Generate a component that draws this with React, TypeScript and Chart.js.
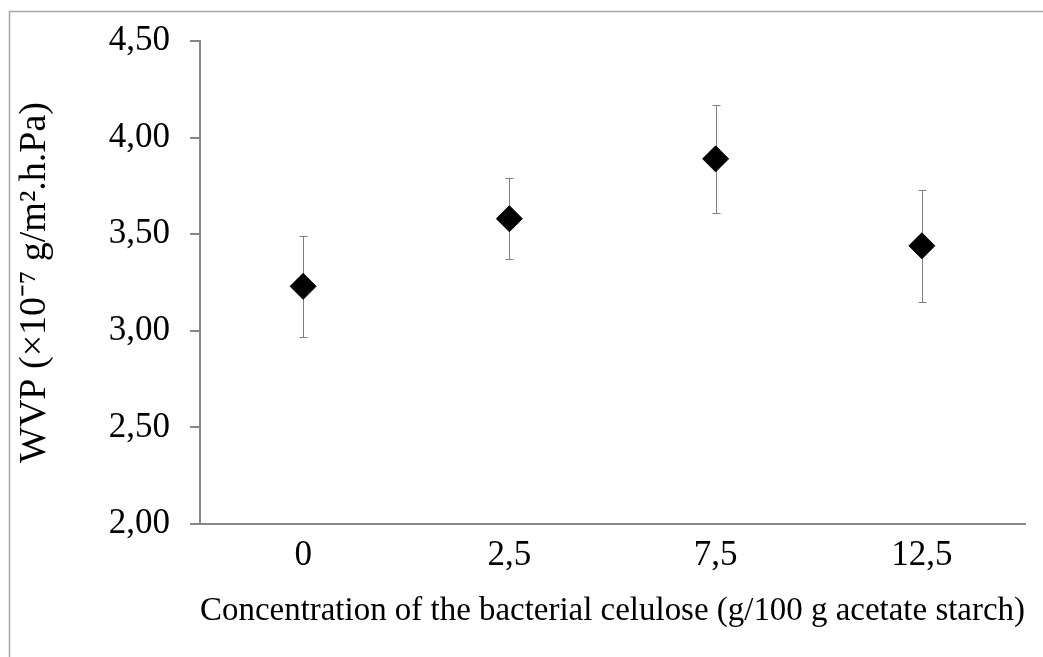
import React, { useEffect, useRef } from "react";
import { Chart, registerables } from "chart.js";

Chart.register(...registerables);

const categories: string[] = ["0", "2,5", "7,5", "12,5"];
const wvp: number[] = [3.23, 3.58, 3.89, 3.44];
const wvpError: number[] = [0.26, 0.21, 0.28, 0.29];
const yTicks: number[] = [2.0, 2.5, 3.0, 3.5, 4.0, 4.5];

const xTitle = "Concentration of the bacterial celulose (g/100 g acetate starch)";
const yTitle = "WVP (×10⁻⁷ g/m².h.Pa)";

const SERIF = "'Liberation Serif', 'Times New Roman', serif";
const AXIS_GRAY = "#878787";

const framePlugin = {
  id: "frame",
  beforeDraw(chart: any) {
    const { ctx, width, height } = chart;
    ctx.save();
    ctx.strokeStyle = "#a6a6a6";
    ctx.lineWidth = 1.5;
    ctx.beginPath();
    ctx.moveTo(9.5, height);
    ctx.lineTo(9.5, 11.5);
    ctx.lineTo(width, 11.5);
    ctx.stroke();
    ctx.restore();
  },
};

const errorBarPlugin = {
  id: "errorBars",
  beforeDatasetsDraw(chart: any) {
    const { ctx } = chart;
    const y = chart.scales.y;
    const meta = chart.getDatasetMeta(0);
    ctx.save();
    ctx.strokeStyle = "#7f7f7f";
    ctx.lineWidth = 1;
    meta.data.forEach((pt: any, i: number) => {
      const px = Math.round(pt.x) + 0.5;
      const yTop = Math.round(y.getPixelForValue(wvp[i] + wvpError[i])) + 0.5;
      const yBot = Math.round(y.getPixelForValue(wvp[i] - wvpError[i])) + 0.5;
      ctx.beginPath();
      ctx.moveTo(px, yTop);
      ctx.lineTo(px, yBot);
      ctx.moveTo(px - 4, yTop);
      ctx.lineTo(px + 4, yTop);
      ctx.moveTo(px - 4, yBot);
      ctx.lineTo(px + 4, yBot);
      ctx.stroke();
    });
    ctx.restore();
  },
};

export default function App() {
  const canvasRef = useRef<HTMLCanvasElement | null>(null);

  useEffect(() => {
    document.body.style.margin = "0";
    document.body.style.overflow = "hidden";
    const canvas = canvasRef.current;
    if (!canvas) return;
    const chart = new Chart(canvas, {
      type: "line",
      data: {
        labels: categories,
        datasets: [
          {
            label: "WVP",
            data: wvp,
            showLine: false,
            pointStyle: "rectRot",
            pointRadius: 13,
            pointHoverRadius: 13,
            pointBackgroundColor: "#000000",
            pointBorderColor: "#000000",
            pointBorderWidth: 1,
          },
        ],
      },
      options: {
        animation: false,
        responsive: true,
        maintainAspectRatio: false,
        events: [],
        layout: { padding: { top: 41, right: 18, left: 0, bottom: 0 } },
        plugins: {
          legend: { display: false },
          tooltip: { enabled: false },
        },
        scales: {
          x: {
            type: "category",
            offset: true,
            grid: { display: false, drawTicks: false, tickLength: 0 },
            border: { display: true, color: AXIS_GRAY, width: 2 },
            ticks: {
              color: "#000000",
              font: { family: SERIF, size: 35 },
              padding: 11,
              maxRotation: 0,
            },
            title: {
              display: true,
              text: xTitle,
              color: "#000000",
              font: { family: SERIF, size: 33 },
              padding: { top: 0, bottom: 26 },
            },
            afterFit(scale: any) {
              scale.height = 133;
            },
          },
          y: {
            type: "linear",
            min: 2,
            max: 4.5,
            grid: {
              display: true,
              drawOnChartArea: false,
              drawTicks: true,
              tickLength: 10,
              color: AXIS_GRAY,
              lineWidth: 2,
            },
            border: { display: true, color: AXIS_GRAY, width: 2 },
            afterBuildTicks(scale: any) {
              scale.ticks = yTicks.map((v) => ({ value: v }));
            },
            ticks: {
              color: "#000000",
              font: { family: SERIF, size: 35 },
              padding: 20,
              callback: (v: any) => Number(v).toFixed(2).replace(".", ","),
            },
            title: {
              display: true,
              text: yTitle,
              color: "#000000",
              font: { family: SERIF, size: 38 },
              padding: { top: 12, bottom: 0 },
            },
            afterFit(scale: any) {
              scale.width = 200;
            },
          },
        },
      },
      plugins: [framePlugin, errorBarPlugin],
    });
    return () => chart.destroy();
  }, []);

  return (
    <div style={{ width: "1043px", height: "657px", position: "relative" }}>
      <canvas ref={canvasRef} />
    </div>
  );
}
